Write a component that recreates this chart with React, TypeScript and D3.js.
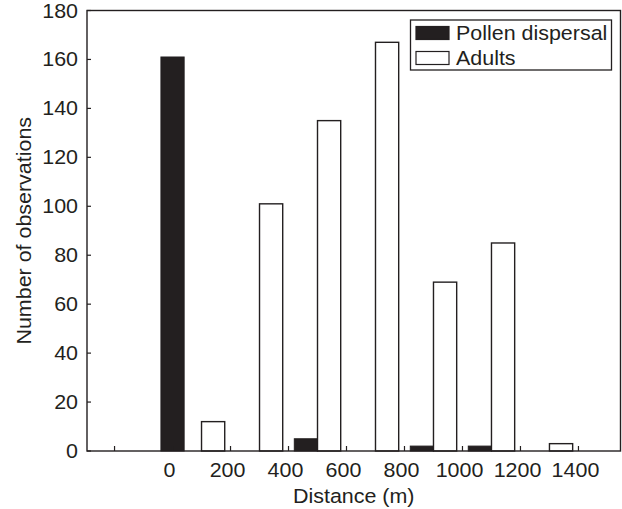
import React from 'react';
import * as d3 from 'd3';

// distance (m) of each bar and its count
const pollenDistance = [0, 460, 860, 1060];
const pollenCount = [161, 5, 2, 2];
const adultDistance = [140, 340, 540, 740, 940, 1140, 1340];
const adultCount = [12, 101, 135, 167, 69, 85, 3];

const xTicks = [-200, 0, 200, 400, 600, 800, 1000, 1200, 1400];
const yTicks = [0, 20, 40, 60, 80, 100, 120, 140, 160, 180];
const seriesNames = ['Pollen dispersal', 'Adults'];

const W = 622;
const H = 509;
const ink = '#231f20';
const font = '"Liberation Sans", Arial, Helvetica, sans-serif';
const fs = 19.5;
const stretch = 1.1; // the figure's lettering is a bit wider than Arial

// text that is stretched sideways around its anchor point
const Label = ({ x, y, anchor = 'start', rotate = 0, dy, children }: any) => (
  <g transform={`translate(${x}, ${y}) rotate(${rotate}) scale(${stretch}, 1)`}>
    <text textAnchor={anchor} dy={dy} fontSize={fs} fill={ink}>
      {children}
    </text>
  </g>
);

const App = () => {
  const margin = { top: 10.5, right: 1.5, bottom: 58, left: 87 };
  const x = d3.scaleLinear().domain([-295, 1545]).range([margin.left, W - margin.right]);
  const y = d3.scaleLinear().domain([0, 180]).range([H - margin.bottom, margin.top]);
  const barHalf = 40; // half bar width, in metres
  const bw = x(barHalf) - x(-barHalf);

  const pollen = pollenDistance.map((d, i) => ({ d, v: pollenCount[i] }));
  const adults = adultDistance.map((d, i) => ({ d, v: adultCount[i] }));

  const [x0, x1] = x.range();
  const [yb, yt] = y.range();

  return (
    <svg
      width={W}
      height={H}
      style={{ position: 'absolute', left: 0, top: 0, background: '#fff' }}
      fontFamily={font}
    >
      {/* bars */}
      {adults.map((b, i) => (
        <rect
          key={'a' + i}
          x={x(b.d) - bw / 2}
          y={y(b.v)}
          width={bw}
          height={y(0) - y(b.v)}
          fill="#fff"
          stroke={ink}
          strokeWidth={1.4}
        />
      ))}
      {pollen.map((b, i) => (
        <rect
          key={'p' + i}
          x={x(b.d) - bw / 2}
          y={y(b.v)}
          width={bw}
          height={y(0) - y(b.v)}
          fill={ink}
          stroke={ink}
          strokeWidth={1}
        />
      ))}

      {/* frame */}
      <rect x={x0} y={yt} width={x1 - x0} height={yb - yt} fill="none" stroke={ink} strokeWidth={1.4} />

      {/* y axis */}
      {yTicks.map((t) => (
        <g key={'y' + t}>
          <line x1={x0} x2={x0 + 4} y1={y(t)} y2={y(t)} stroke={ink} strokeWidth={1.2} />
          <Label x={x0 - 9} y={y(t)} anchor="end" dy="0.36em">
            {t}
          </Label>
        </g>
      ))}

      {/* x axis */}
      {xTicks.map((t) => (
        <g key={'x' + t}>
          <line x1={x(t)} x2={x(t)} y1={y(0)} y2={y(0) - 5} stroke={ink} strokeWidth={1.2} />
          {t >= 0 && (
            <Label x={x(t) - 3} y={477} anchor="middle">
              {t}
            </Label>
          )}
        </g>
      ))}

      <Label x={(x0 + x1) / 2} y={503} anchor="middle">
        Distance (m)
      </Label>
      <Label x={31} y={(yb + yt) / 2} anchor="middle" rotate={-90}>
        Number of observations
      </Label>

      {/* legend */}
      <g>
        <rect x={410.5} y={20} width={201} height={50} fill="#fff" stroke={ink} strokeWidth={1.3} />
        {seriesNames.map((name, i) => (
          <g key={name} transform={`translate(416, ${26.5 + i * 25})`}>
            <rect width={33} height={13} fill={i === 0 ? ink : '#fff'} stroke={ink} strokeWidth={1.2} />
            <Label x={40} y={13}>
              {name}
            </Label>
          </g>
        ))}
      </g>
    </svg>
  );
};

export default App;
